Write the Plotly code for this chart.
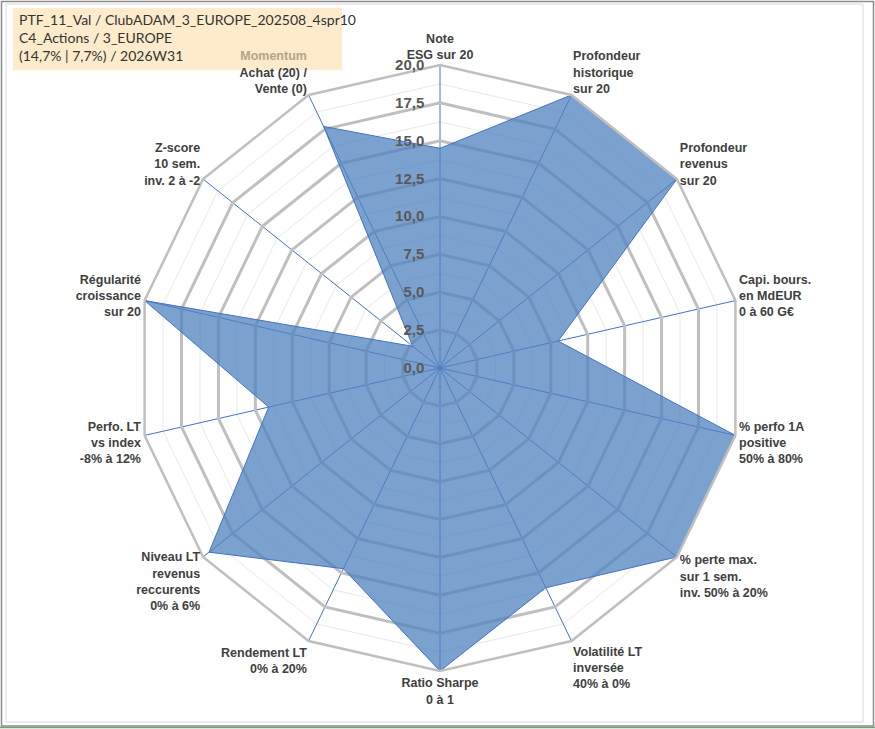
import plotly.graph_objects as go

# Axis labels (clockwise from the top) and scores out of 20
labels = [
    "Note<br>ESG sur 20",
    "Profondeur<br>historique<br>sur 20",
    "Profondeur<br>revenus<br>sur 20",
    "Capi. bours.<br>en MdEUR<br>0 à 60 G€",
    "% perfo 1A<br>positive<br>50% à 80%",
    "% perte max.<br>sur 1 sem.<br>inv. 50% à 20%",
    "Volatilité LT<br>inversée<br>40% à 0%",
    "Ratio Sharpe<br>0 à 1",
    "Rendement LT<br>0% à 20%",
    "Niveau LT<br>revenus<br>reccurents<br>0% à 6%",
    "Perfo. LT<br>vs index<br>-8% à 12%",
    "Régularité<br>croissance<br>sur 20",
    "Z-score<br>10 sem.<br>inv. 2 à -2",
    "<span style='color:#B3A685'>Momentum</span><br>Achat (20) /<br>Vente (0)",
]
scores = [14.5, 20, 20, 8.0, 20, 20, 16.1, 20, 14.7, 19.5, 11.6, 20, 2.3, 17.7]

title_lines = [
    "PTF_11_Val / ClubADAM_3_EUROPE_202508_4spr10",
    "C4_Actions / 3_EUROPE",
    "(14,7% | 7,7%) / 2026W31",
]

W, H = 875, 729
cx, cy, rad = 440, 368, 303
dom_x = [(cx - rad) / W, (cx + rad) / W]
dom_y = [(H - cy - rad) / H, (H - cy + rad) / H]

fig = go.Figure()

# invisible trace so the minor-grid polar gets drawn
fig.add_trace(go.Scatterpolar(r=scores, theta=labels, mode="lines",
                              line=dict(width=0), opacity=0,
                              hoverinfo="skip", showlegend=False,
                              subplot="polar"))

fig.add_trace(go.Scatterpolar(r=scores + scores[:1], theta=labels + labels[:1],
                              mode="lines", fill="toself",
                              fillcolor="rgba(79,129,189,0.75)",
                              line=dict(color="#4472C4", width=1),
                              showlegend=False, subplot="polar2"))

common_ang = dict(categoryarray=labels, categoryorder="array",
                  direction="clockwise", rotation=90)

fig.update_layout(
    width=W, height=H,
    margin=dict(l=0, r=0, t=0, b=0),
    paper_bgcolor="white",
    separators=", ",
    font=dict(family="Liberation Sans, Arial", color="#404040"),
    polar=dict(
        domain=dict(x=dom_x, y=dom_y),
        bgcolor="white",
        gridshape="linear",
        radialaxis=dict(range=[0, 20], dtick=1.25, showticklabels=False,
                        ticks="", showline=False, gridcolor="#e8e8e8",
                        gridwidth=1),
        angularaxis=dict(showgrid=False, showticklabels=False, ticks="",
                         showline=False, **common_ang),
    ),
    polar2=dict(
        domain=dict(x=dom_x, y=dom_y),
        bgcolor="rgba(0,0,0,0)",
        gridshape="linear",
        radialaxis=dict(range=[0, 20], tick0=0, dtick=2.5, tickformat=".1f",
                        angle=90, side="counterclockwise",
                        ticks="outside", ticklen=10, tickcolor="rgba(0,0,0,0)",
                        tickangle=90,
                        showline=False, gridcolor="#bfbfbf", gridwidth=2.5,
                        tickfont=dict(size=15, color="#595959", weight="bold")),
        angularaxis=dict(gridcolor="#4472C4", gridwidth=1, ticks="",
                         linecolor="#bfbfbf", linewidth=2.5,
                         layer="above traces",
                         tickfont=dict(size=12.5, color="#404040", weight="bold"),
                         **common_ang),
    ),
)

# frame and title box
fig.add_shape(type="rect", xref="paper", yref="paper",
              x0=1.5 / W, x1=1 - 1.5 / W, y0=3 / H, y1=1 - 1.5 / H,
              line=dict(color="#8c8c8c", width=1.5))
fig.add_shape(type="rect", xref="paper", yref="paper",
              x0=6 / W, x1=1 - 12 / W, y0=7 / H, y1=1 - 4 / H,
              line=dict(color="#d9d9d9", width=1))
fig.add_shape(type="line", xref="paper", yref="paper",
              x0=0, x1=1, y0=1.5 / H, y1=1.5 / H,
              line=dict(color="#70a070", width=1.5))
fig.add_shape(type="rect", xref="paper", yref="paper",
              x0=13 / W, x1=342 / W, y0=1 - 70 / H, y1=1 - 8 / H,
              fillcolor="#FDEBCB", line=dict(width=0), layer="below")
fig.add_annotation(text="<br>".join(title_lines), xref="paper", yref="paper",
                   x=17 / W, y=1 - 9 / H, xanchor="left", yanchor="top",
                   align="left", showarrow=False,
                   font=dict(family="Lato", size=14, color="#333333"))

# page body has a default 8px margin; drop it so the figure fills the window
fig.write_html("out.html", config={"displayModeBar": False},
               post_script="document.body.style.margin='0';")
